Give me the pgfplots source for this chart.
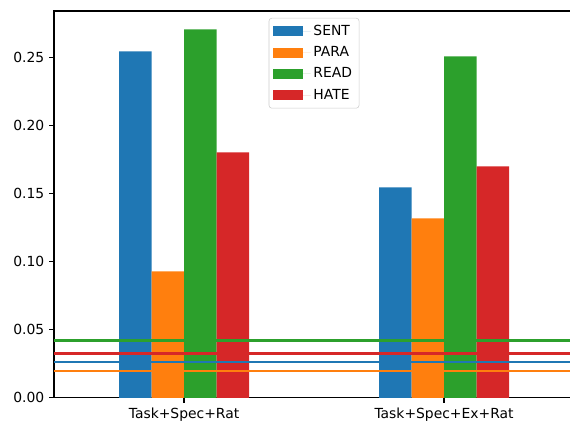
\documentclass[border=0pt]{standalone}
\usepackage{fontspec}
\setmainfont{DejaVu Sans}
\usepackage{pgfplots}
\pgfplotsset{compat=1.18}

\definecolor{tabblue}{RGB}{31,119,180}
\definecolor{taborange}{RGB}{255,127,14}
\definecolor{tabgreen}{RGB}{44,160,44}
\definecolor{tabred}{RGB}{214,39,40}

\begin{document}
\begin{tikzpicture}
	% page: 570x422 px at 0.72pt/px; right spine falls just outside
	\path[use as bounding box] (-38.9pt,-17.3pt) rectangle (371.5pt,286.5pt);
	\begin{axis}[
		at={(0,0)}, anchor=south west,
		scale only axis,
		width=374.4pt, height=278.6pt,
		xmin=-0.5, xmax=1.5,
		ymin=0, ymax=0.2838,
		xtick={0,1},
		xticklabels={Task+Spec+Rat, Task+Spec+Ex+Rat},
		ytick={0,0.05,0.10,0.15,0.20,0.25},
		yticklabel style={/pgf/number format/fixed, /pgf/number format/precision=2,
			/pgf/number format/fixed zerofill},
		/pgf/number format/assume math mode=true,
		tick label style={font=\fontsize{10}{12}\selectfont},
		tick align=outside,
		major tick length=3.5pt,
		xtick pos=bottom, ytick pos=left,
		axis line style={line width=0.8pt},
		every tick/.style={black, line width=0.8pt},
		legend style={at={(0.5,1)}, yshift=-5pt, anchor=north,
			draw=black!20, rounded corners=2pt,
			font=\fontsize{10}{12}\selectfont,
			inner xsep=3pt, inner ysep=3pt, row sep=2.5pt},
		legend cell align=left,
		legend image code/.code={
			\fill[#1, sharp corners] (0pt,-3.6pt) rectangle (21.6pt,3.6pt);
			\path (0pt,0pt) -- (27pt,0pt);},
	]
		\addplot[ybar, bar width=0.125, bar shift=-0.1875, fill=tabblue, draw=none]
			coordinates {(0,0.2542) (1,0.1545)};
		\addlegendentry{SENT}
		\addplot[ybar, bar width=0.125, bar shift=-0.0625, fill=taborange, draw=none]
			coordinates {(0,0.0929) (1,0.1317)};
		\addlegendentry{PARA}
		\addplot[ybar, bar width=0.125, bar shift=0.0625, fill=tabgreen, draw=none]
			coordinates {(0,0.2703) (1,0.2505)};
		\addlegendentry{READ}
		\addplot[ybar, bar width=0.125, bar shift=0.1875, fill=tabred, draw=none]
			coordinates {(0,0.1801) (1,0.1699)};
		\addlegendentry{HATE}

		% baselines
		\addplot[tabblue, line width=1.5pt, mark=none, forget plot]
			coordinates {(-0.5,0.0264) (1.5,0.0264)};
		\addplot[taborange, line width=1.5pt, mark=none, forget plot]
			coordinates {(-0.5,0.0198) (1.5,0.0198)};
		\addplot[tabgreen, line width=1.5pt, mark=none, forget plot]
			coordinates {(-0.5,0.0421) (1.5,0.0421)};
		\addplot[tabred, line width=1.5pt, mark=none, forget plot]
			coordinates {(-0.5,0.0326) (1.5,0.0326)};
	\end{axis}
\end{tikzpicture}
\end{document}
